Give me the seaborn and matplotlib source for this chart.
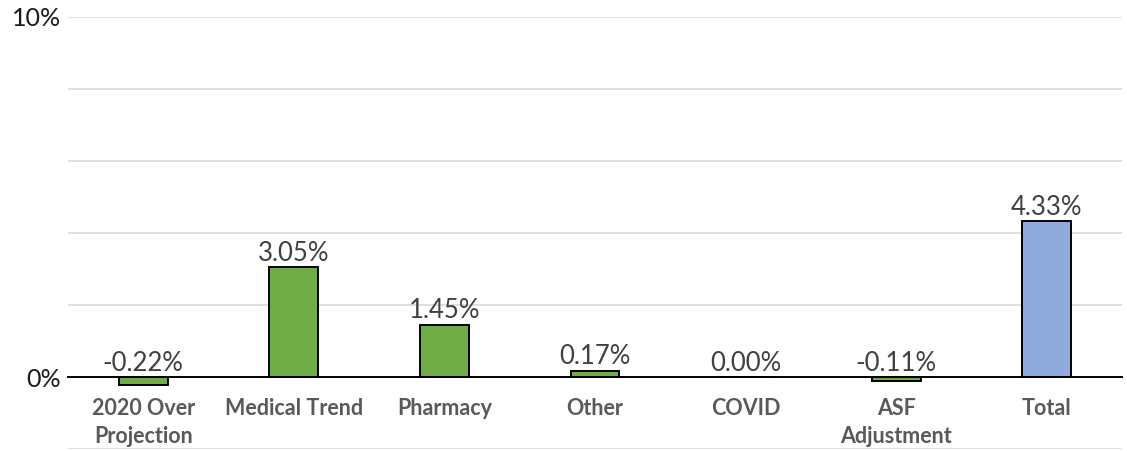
import matplotlib
import matplotlib.pyplot as plt
import seaborn as sns
from matplotlib.ticker import FuncFormatter

matplotlib.use("Agg")

categories = ["2020 Over\nProjection", "Medical Trend", "Pharmacy", "Other",
              "COVID", "ASF\nAdjustment", "Total"]
values = [-0.22, 3.05, 1.45, 0.17, 0.00, -0.11, 4.33]
bar_colors = ["#70AD47"] * 6 + ["#8FAADC"]

sns.set_style("white")
plt.rcParams["font.family"] = ["Lato", "DejaVu Sans"]

fig = plt.figure(figsize=(11.27, 4.51), dpi=100)
ax = fig.add_axes([0.0603, 0.0044, 0.9353, 0.958])

sns.barplot(x=categories, y=values, hue=categories, palette=bar_colors,
            legend=False, width=0.325, edgecolor="black", linewidth=1.4,
            saturation=1, ax=ax)

ax.set_xlim(-0.5, 6.5)
ax.set_ylim(-2, 10)
ax.set_yticks([-2, 0, 2, 4, 6, 8, 10])
ax.yaxis.set_major_formatter(FuncFormatter(lambda v, _: f"{v:.0f}%" if v in (0, 10) else ""))
ax.grid(axis="y", color="#D9D9D9", linewidth=1.2)
ax.set_axisbelow(True)

for side in ["left", "right", "top"]:
    ax.spines[side].set_visible(False)
ax.spines["bottom"].set_position(("data", 0))
ax.spines["bottom"].set_color("black")
ax.spines["bottom"].set_linewidth(1.4)
ax.spines["bottom"].set_zorder(3)

ax.tick_params(axis="y", length=0, labelsize=18, pad=5, colors="#1a1a1a")
ax.tick_params(axis="x", length=0, pad=15)
for lbl in ax.get_xticklabels():
    lbl.set_fontsize(15.5)
    lbl.set_fontweight("bold")
    lbl.set_color("#595959")
    lbl.set_linespacing(1.45)
    lbl.set_verticalalignment("top")
ax.set_xlabel("")
ax.set_ylabel("")

for i, v in enumerate(values):
    ax.annotate(f"{v:.2f}%", (i, max(v, 0)), xytext=(0, 1),
                textcoords="offset points", ha="center", va="bottom",
                fontsize=18.5, color="#404040")

fig.savefig("out.png", dpi=100)
